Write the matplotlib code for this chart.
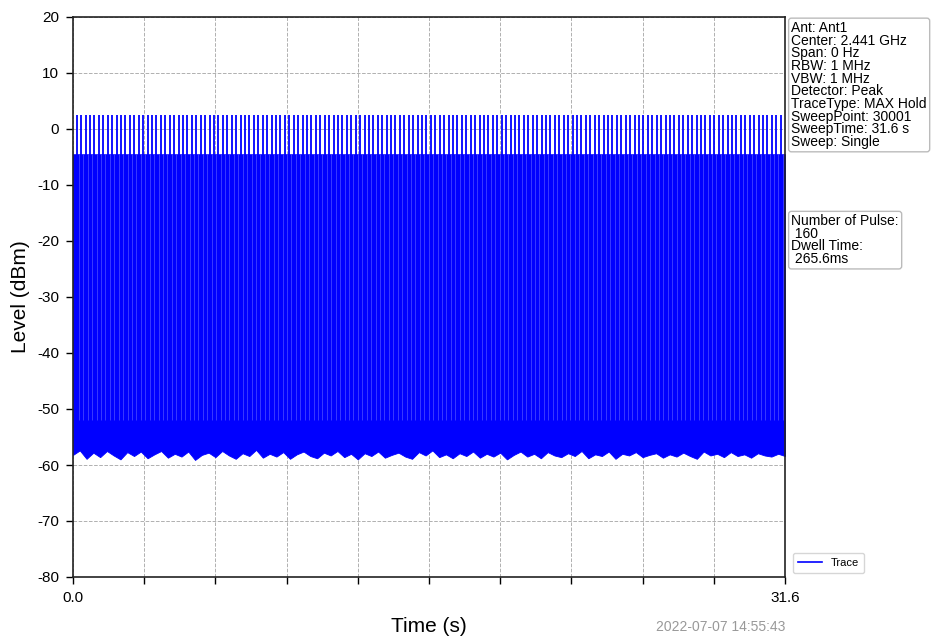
import numpy as np
import matplotlib
matplotlib.use("Agg")
import matplotlib.pyplot as plt

plt.rcParams['font.family'] = ['Liberation Sans', 'DejaVu Sans']
plt.rcParams['axes.unicode_minus'] = False

# ---- data ----
sweep_time_s = 31.6
pulse_count = 160
first_pulse_s = 0.165
pulse_period_s = 0.1965
pulse_peak_dbm = 2.5
burst_top_dbm = -4.5
noise_top_dbm = -52.0
# lower edge of the noise floor, read every ~0.3 s across the sweep (dBm)
noise_floor_dbm = [-58.2, -57.4, -58.9, -57.8, -58.6, -57.5, -58.3, -59.0, -57.7, -58.4,
                   -57.6, -58.8, -58.1, -57.5, -58.7, -58.0, -58.5, -57.6, -59.1, -58.2,
                   -57.8, -58.6, -57.5, -58.3, -58.9, -57.9, -58.4, -57.3, -58.7, -58.0,
                   -58.5, -57.7, -58.9, -58.1, -57.6, -58.4, -58.8, -57.8, -58.3, -57.5,
                   -58.6, -58.0, -59.0, -57.9, -58.4, -57.6, -58.7, -58.2, -57.8, -58.5,
                   -58.9, -57.7, -58.3, -57.4, -58.6, -58.1, -58.8, -57.9, -58.4, -57.6,
                   -58.7, -58.0, -58.5, -57.8, -59.0, -58.2, -57.6, -58.5, -58.0, -58.8,
                   -57.7, -58.3, -58.6, -57.9, -58.4, -57.5, -58.8, -58.1, -58.4, -57.6,
                   -58.9, -58.0, -58.3, -57.7, -58.6, -58.2, -57.9, -58.7, -58.1, -58.5,
                   -57.8, -58.4, -58.9, -57.6, -58.3, -58.0, -58.6, -57.7, -58.4, -58.1,
                   -58.7, -57.9, -58.3, -58.5, -58.0, -58.4]
x_tick_labels = ['0.0', '31.6']
info_lines = ['Ant: Ant1', 'Center: 2.441 GHz', 'Span: 0 Hz', 'RBW: 1 MHz', 'VBW: 1 MHz',
              'Detector: Peak', 'TraceType: MAX Hold', 'SweepPoint: 30001',
              'SweepTime: 31.6 s', 'Sweep: Single']
pulse_lines = ['Number of Pulse:', ' 160', 'Dwell Time:', ' 265.6ms']
timestamp = '2022-07-07 14:55:43'

# ---- figure ----
fig = plt.figure(figsize=(9.35, 6.39), dpi=100)
ax = fig.add_axes([73/935, 62/639, 712/935, 560/639])

noise_t = np.linspace(0, sweep_time_s, len(noise_floor_dbm))
ax.fill_between(noise_t, noise_floor_dbm, burst_top_dbm, color='#0000ff', lw=0.6,
                edgecolor='#0000ff')
pulse_t = first_pulse_s + pulse_period_s * np.arange(pulse_count)
ax.vlines(pulse_t, noise_top_dbm, pulse_peak_dbm, color='#0000ff', lw=1.3)
ax.vlines(pulse_t + pulse_period_s / 2, noise_top_dbm, burst_top_dbm, color='#5050ff',
          lw=0.5)
ax.plot([], [], color='#0000ff', lw=1.2, label='Trace')

ax.set_xlim(0, sweep_time_s)
ax.set_ylim(-80, 20)
ax.set_yticks(np.arange(-80, 21, 10))
ax.set_xticks(np.linspace(0, sweep_time_s, 11))
labels = [''] * 11
labels[0] = x_tick_labels[0]
labels[-1] = x_tick_labels[1]
ax.set_xticklabels(labels)
ax.tick_params(direction='out', length=5, width=1, labelsize=11, colors='black', pad=5)
ax.grid(True, color='#b0b0b0', ls='--', lw=0.7)
ax.set_axisbelow(True)
for s in ax.spines.values():
    s.set_color('#222222')
    s.set_linewidth(1.2)

ax.set_xlabel('Time (s)', fontsize=15, labelpad=9)
ax.set_ylabel('Level (dBm)', fontsize=15, labelpad=5)

box = dict(boxstyle='round,pad=0.2,rounding_size=0.2', fc='white', ec='#bbbbbb', lw=1)
ax.text(1.009, 0.993, '\n'.join(info_lines), transform=ax.transAxes, fontsize=10,
        va='top', ha='left', linespacing=0.88, bbox=box)
ax.text(1.009, 0.648, '\n'.join(pulse_lines), transform=ax.transAxes, fontsize=10,
        va='top', ha='left', linespacing=0.88, bbox=box)

leg = ax.legend(loc='lower left', bbox_to_anchor=(1.003, -0.003), fontsize=8,
                handlelength=2.2, frameon=True, borderpad=0.45, handletextpad=0.8)
leg.get_frame().set_edgecolor('#cccccc')

fig.text(785/935, 1 - 627/639, timestamp, color='#999999', fontsize=10,
         ha='right', va='center')

fig.savefig('out.png', dpi=100)
